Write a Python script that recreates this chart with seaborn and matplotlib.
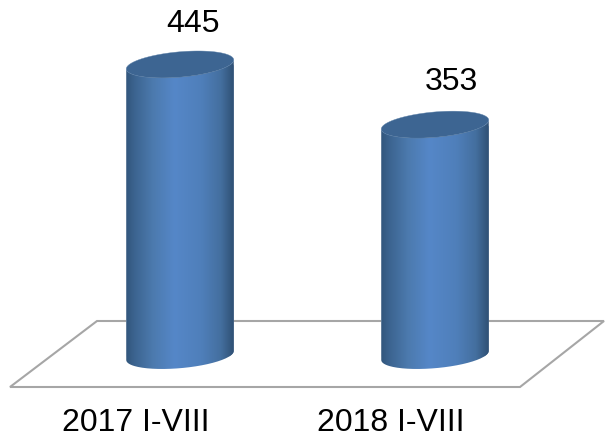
import numpy as np
import matplotlib
matplotlib.use("Agg")
import matplotlib.pyplot as plt
import seaborn as sns
from matplotlib.colors import LinearSegmentedColormap
from matplotlib.patches import PathPatch, Polygon
from matplotlib.path import Path
from matplotlib.transforms import ScaledTranslation

periods = ["2017 I-VIII", "2018 I-VIII"]
values = [445, 353]

W, H = 605, 437
AX_H = 400  # pixels of the figure used by the axes, the rest is for tick labels
PX_PER_CAT = 255
PX_PER_UNIT = 0.654
BASE_X = 180
BASE_Y = 355.5
BAR_W = 107.5
FONT = 23
LABEL_OFFSETS = [(13, 40.5), (16.5, 42.5)]  # pixels from the bar top

sns.set_theme(style="white")
plt.rcParams["font.family"] = ["Liberation Sans", "DejaVu Sans"]

fig = plt.figure(figsize=(W / 100, H / 100), dpi=100)
ax = fig.add_axes([0, (H - AX_H) / H, 1, AX_H / H])
xlim = (-BASE_X / PX_PER_CAT, (W - BASE_X) / PX_PER_CAT)
ylim = ((BASE_Y - AX_H) / PX_PER_UNIT, BASE_Y / PX_PER_UNIT)

# floor of the 3d chart
floor_px = [(10, 387), (97, 321), (604, 321), (520, 387)]
floor = Polygon([(x / W, 1 - y / H) for x, y in floor_px], closed=True, fill=False,
                edgecolor="#a6a6a6", linewidth=1.5, transform=fig.transFigure, zorder=0)
fig.add_artist(floor)

sns.barplot(x=periods, y=values, width=BAR_W / PX_PER_CAT, color="#4a76a8", ax=ax, zorder=2)

body_cmap = LinearSegmentedColormap.from_list("body", [
    (0.0, "#32567c"), (0.08, "#3c6490"), (0.25, "#4c7aae"), (0.45, "#5587c8"),
    (0.70, "#4f7fba"), (0.88, "#446f9f"), (1.0, "#2f5074")])
gradient = np.linspace(0, 1, 256).reshape(1, -1)


def ellipse_pts(cx, cy, t):
    # sheared ellipse in data units, right side tilted upwards
    a = BAR_W / 2 / PX_PER_CAT
    py = 4.5 * np.cos(t) + 12.7 * np.sin(t)
    return np.column_stack([cx + a * np.cos(t), cy + py / PX_PER_UNIT])


for bar, v in zip(ax.patches, values):
    cx = bar.get_x() + bar.get_width() / 2
    # body: top ellipse front edge down the sides and round the bottom ellipse
    lower = ellipse_pts(cx, 0, np.linspace(np.pi, 2 * np.pi, 80))
    upper = ellipse_pts(cx, v, np.linspace(2 * np.pi, np.pi, 80))
    pts = np.vstack([lower, upper])
    clip = PathPatch(Path(np.vstack([pts, pts[:1]])), facecolor="none", edgecolor="none",
                     transform=ax.transData)
    ax.add_patch(clip)
    img = ax.imshow(gradient, cmap=body_cmap, aspect="auto", zorder=3,
                    extent=(bar.get_x(), bar.get_x() + bar.get_width(), -40, v + 40))
    img.set_clip_path(clip)
    bar.set_clip_path(clip)
    top = ellipse_pts(cx, v, np.linspace(0, 2 * np.pi, 160))
    ax.add_patch(Polygon(top, closed=True, facecolor="#3d6592", edgecolor="#5f83aa",
                         linewidth=0.3, zorder=4))

for i, v in enumerate(values):
    dx, dy = LABEL_OFFSETS[i]
    ax.annotate(str(v), xy=(i, v), xytext=(dx * 0.72, dy * 0.72), textcoords="offset points",
                ha="center", va="center", fontsize=FONT, color="black", zorder=5)

ax.set_xlim(xlim)
ax.set_ylim(ylim)
ax.set_yticks([])
ax.set_xlabel("")
ax.set_ylabel("")
ax.tick_params(axis="x", length=0, pad=5.5, labelsize=FONT, labelcolor="black")
sns.despine(ax=ax, left=True, bottom=True, top=True, right=True)
ax.patch.set_alpha(0)

# category labels sit left of their bars in the reference
shift = ScaledTranslation(-44.5 / 100, 0, fig.dpi_scale_trans)
for label in ax.get_xticklabels():
    label.set_transform(label.get_transform() + shift)

fig.savefig("out.png", dpi=100, facecolor="white")
